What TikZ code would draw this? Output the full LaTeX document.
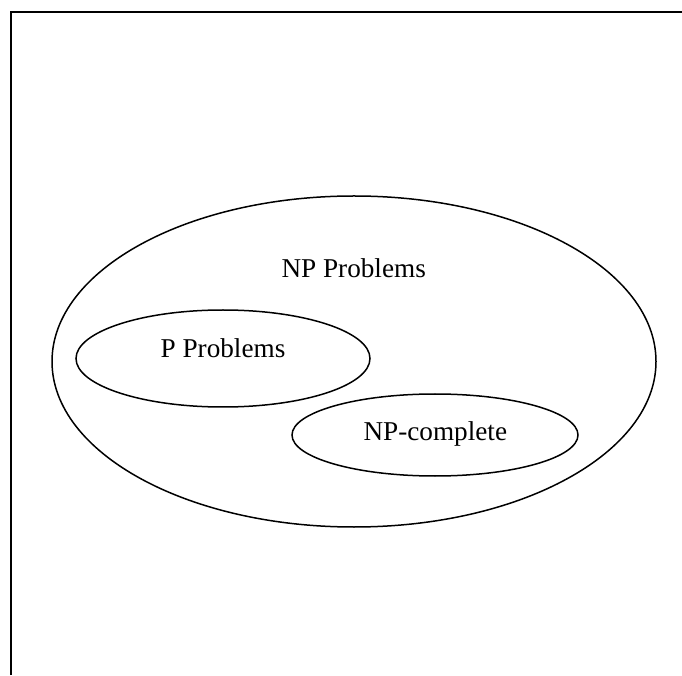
\documentclass[tikz,border=0pt]{standalone}
\usepackage{fontspec}
\setmainfont{Liberation Serif}
\usetikzlibrary{shapes.geometric}
\begin{document}
\begin{tikzpicture}[x=1pt,y=1pt,
  setshape/.style={draw=black, line width=1.5pt, ellipse, inner sep=0pt},
  lbl/.style={anchor=base, inner sep=0pt, font=\fontsize{27.2}{30}\selectfont}]
\useasboundingbox (0,0) rectangle (682,675);
\coordinate (ftl) at (11,663);
\coordinate (ftr) at (682,663);
\coordinate (fbl) at (11,0);
\draw[line width=2.2pt] (fbl) -- (ftl) -- (ftr);
\node[setshape, minimum width=604pt, minimum height=331pt] (np) at (354,313.5) {};
\node[setshape, minimum width=294pt, minimum height=97pt] (p) at (223,316.5) {};
\node[setshape, minimum width=286pt, minimum height=82pt] (npc) at (435,240) {};
\node[lbl] (npt) at (353.7,397.7) {NP Problems};
\node[lbl] (pt) at (223,317) {P Problems};
\node[lbl] (npct) at (435.3,234.3) {NP-complete};
\end{tikzpicture}
\end{document}
